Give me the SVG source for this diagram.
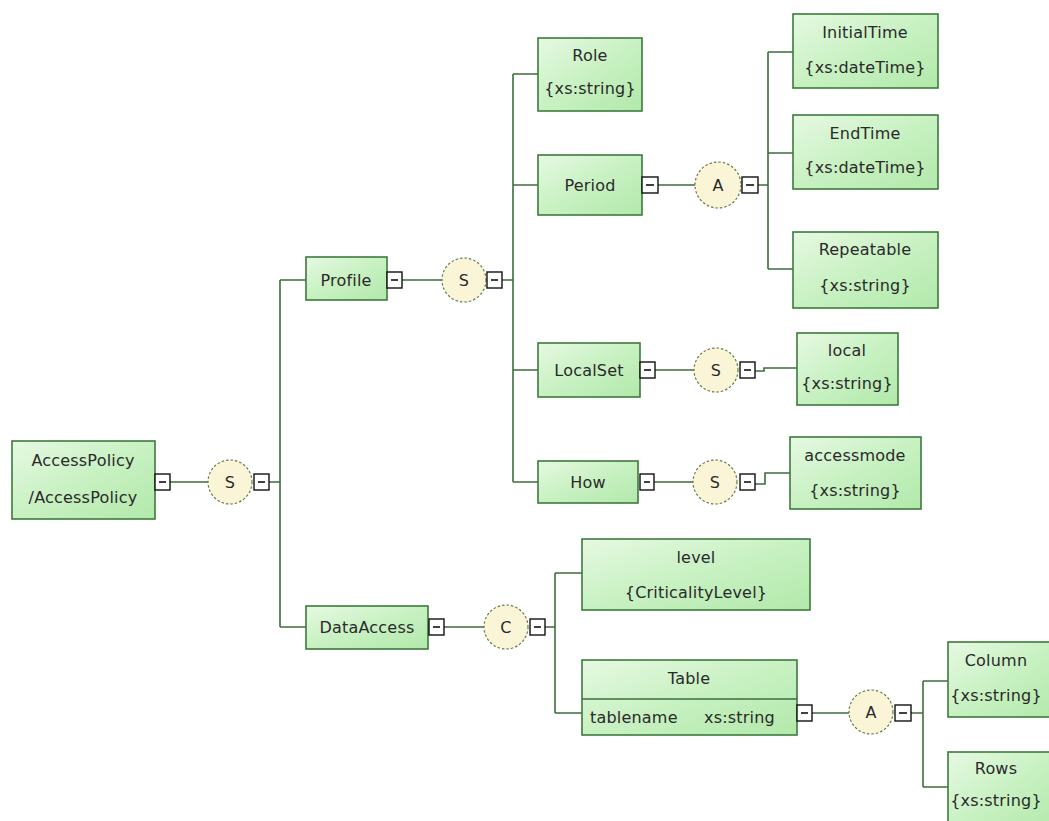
<svg xmlns="http://www.w3.org/2000/svg" width="1049" height="821" viewBox="0 0 1049 821">
<defs>
<linearGradient id="g" x1="0" y1="0" x2="1" y2="1">
<stop offset="0" stop-color="#e6f9e2"/>
<stop offset="0.5" stop-color="#c8f1c2"/>
<stop offset="1" stop-color="#b2e9aa"/>
</linearGradient>
<style>
.box{fill:url(#g);stroke:#3d7a3d;stroke-width:1.6}
.grp{fill:#fbf5d8;stroke:#6b7a4a;stroke-width:1.2;stroke-dasharray:2.5 2}
.mb{fill:#fff;stroke:#111;stroke-width:1.4}
.mn{stroke:#111;stroke-width:1.6}
.c{fill:none;stroke:#3d6e3d;stroke-width:1.6}
text{font-family:"DejaVu Sans","Verdana",sans-serif;font-size:16px;letter-spacing:0.2px;fill:#2a2a2a;dominant-baseline:central}
.m{text-anchor:middle}
</style>
</defs>
<rect width="1049" height="821" fill="#fff"/>
<g id="connectors">
<path class="c" d="M170,482H208M269,482H280M280,280V627M280,280H306M280,627H306"/>
<path class="c" d="M402,280H442M502,280H513M513,74V482M513,74H538M513,185H538M513,370H538M513,482H538"/>
<path class="c" d="M658,185H695M758,185H768M768,52V269M768,52H793M768,153H793M768,269H793"/>
<path class="c" d="M655,370H694M755,371H764V368H797"/>
<path class="c" d="M654,482H693M755,484H765V473H790"/>
<path class="c" d="M444,627H484M545,627H555M555,573V713M555,573H582M555,713H582"/>
<path class="c" d="M812,713H849M911,713H923M923,681V787M923,681H948M923,787H948"/>
</g>
<g id="AccessPolicy">
<rect class="box" x="12" y="441" width="143" height="78"/>
<text class="m" x="83" y="460">AccessPolicy</text>
<text class="m" x="83" y="497">/AccessPolicy</text>
<rect class="mb" x="155" y="474" width="15" height="16"/><path class="mn" d="M159,482H166"/>
</g>
<g id="seq1">
<circle class="grp" cx="230" cy="482" r="22"/>
<text class="m" x="230" y="482">S</text>
<rect class="mb" x="254" y="474" width="15" height="16"/><path class="mn" d="M258,482H265"/>
</g>
<g id="Profile">
<rect class="box" x="306" y="257" width="81" height="43"/>
<text class="m" x="346" y="280">Profile</text>
<rect class="mb" x="387" y="272" width="15" height="16"/><path class="mn" d="M391,280H398"/>
</g>
<g id="seq2">
<circle class="grp" cx="464" cy="280" r="22"/>
<text class="m" x="464" y="280">S</text>
<rect class="mb" x="487" y="272" width="15" height="16"/><path class="mn" d="M491,280H498"/>
</g>
<g id="Role">
<rect class="box" x="538" y="38" width="104" height="73"/>
<text class="m" x="590" y="55">Role</text>
<text class="m" x="590" y="88">{xs:string}</text>
</g>
<g id="Period">
<rect class="box" x="538" y="155" width="104" height="60"/>
<text class="m" x="590" y="185">Period</text>
<rect class="mb" x="642" y="177" width="16" height="16"/><path class="mn" d="M646,185H654"/>
</g>
<g id="all1">
<circle class="grp" cx="718" cy="185" r="23"/>
<text class="m" x="718" y="185">A</text>
<rect class="mb" x="742" y="177" width="16" height="16"/><path class="mn" d="M746,185H754"/>
</g>
<g id="InitialTime">
<rect class="box" x="793" y="14" width="145" height="74"/>
<text class="m" x="865" y="32">InitialTime</text>
<text class="m" x="865" y="67">{xs:dateTime}</text>
</g>
<g id="EndTime">
<rect class="box" x="793" y="115" width="145" height="74"/>
<text class="m" x="865" y="133">EndTime</text>
<text class="m" x="865" y="167">{xs:dateTime}</text>
</g>
<g id="Repeatable">
<rect class="box" x="793" y="232" width="145" height="76"/>
<text class="m" x="865" y="249">Repeatable</text>
<text class="m" x="865" y="285">{xs:string}</text>
</g>
<g id="LocalSet">
<rect class="box" x="538" y="343" width="102" height="54"/>
<text class="m" x="589" y="370">LocalSet</text>
<rect class="mb" x="640" y="362" width="15" height="16"/><path class="mn" d="M644,370H651"/>
</g>
<g id="seq3">
<circle class="grp" cx="716" cy="370" r="22"/>
<text class="m" x="716" y="370">S</text>
<rect class="mb" x="740" y="362" width="15" height="16"/><path class="mn" d="M744,370H751"/>
</g>
<g id="local">
<rect class="box" x="797" y="333" width="101" height="72"/>
<text class="m" x="847" y="350">local</text>
<text class="m" x="847" y="383">{xs:string}</text>
</g>
<g id="How">
<rect class="box" x="538" y="461" width="100" height="42"/>
<text class="m" x="588" y="482">How</text>
<rect class="mb" x="640" y="474" width="14" height="16"/><path class="mn" d="M644,482H650"/>
</g>
<g id="seq4">
<circle class="grp" cx="715" cy="482" r="22"/>
<text class="m" x="715" y="482">S</text>
<rect class="mb" x="740" y="474" width="15" height="16"/><path class="mn" d="M744,482H751"/>
</g>
<g id="accessmode">
<rect class="box" x="790" y="437" width="131" height="72"/>
<text class="m" x="855" y="455">accessmode</text>
<text class="m" x="855" y="490">{xs:string}</text>
</g>
<g id="DataAccess">
<rect class="box" x="306" y="606" width="122" height="43"/>
<text class="m" x="367" y="627">DataAccess</text>
<rect class="mb" x="429" y="619" width="15" height="16"/><path class="mn" d="M433,627H440"/>
</g>
<g id="choice">
<circle class="grp" cx="506" cy="627" r="22"/>
<text class="m" x="506" y="627">C</text>
<rect class="mb" x="530" y="619" width="15" height="16"/><path class="mn" d="M534,627H541"/>
</g>
<g id="level">
<rect class="box" x="582" y="539" width="228" height="71"/>
<text class="m" x="696" y="557">level</text>
<text class="m" x="696" y="592">{CriticalityLevel}</text>
</g>
<g id="Table">
<rect class="box" x="582" y="660" width="215" height="75"/>
<path class="c" d="M582,699H797"/>
<text class="m" x="689" y="678">Table</text>
<text x="590" y="717">tablename</text>
<text x="704" y="717">xs:string</text>
<rect class="mb" x="797" y="705" width="15" height="16"/><path class="mn" d="M801,713H808"/>
</g>
<g id="all2">
<circle class="grp" cx="871" cy="712" r="22"/>
<text class="m" x="871" y="712">A</text>
<rect class="mb" x="895" y="705" width="16" height="16"/><path class="mn" d="M899,713H907"/>
</g>
<g id="Column">
<rect class="box" x="948" y="642" width="110" height="75"/>
<text class="m" x="996" y="660">Column</text>
<text class="m" x="996" y="695">{xs:string}</text>
</g>
<g id="Rows">
<rect class="box" x="948" y="752" width="110" height="80"/>
<text class="m" x="996" y="768">Rows</text>
<text class="m" x="996" y="800">{xs:string}</text>
</g>
</svg>
